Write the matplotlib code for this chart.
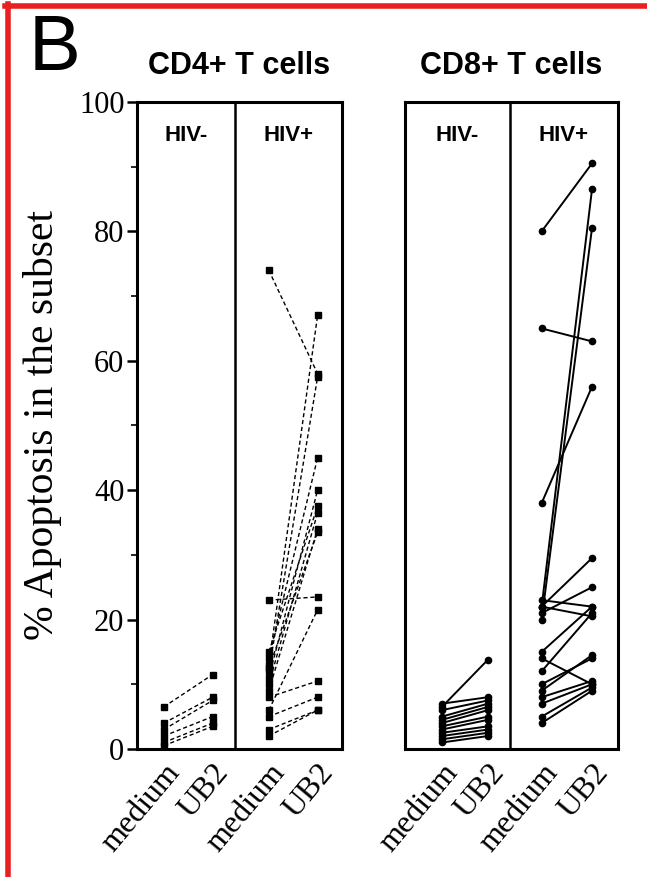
import matplotlib.pyplot as plt
from matplotlib.lines import Line2D
from matplotlib.ticker import MultipleLocator

# % apoptosis, one pair (medium -> UB2) per donor
cd4_neg_medium = [6.5, 4, 3, 2, 1, 0.5]
cd4_neg_ub2 = [11.5, 8, 7.5, 5, 4, 3.5]
cd4_pos_medium = [74, 13, 12, 14, 11, 15, 10, 9, 12.5, 23, 6, 8, 5, 3, 2]
cd4_pos_ub2 = [58, 67, 57.5, 45, 40, 37.5, 36.5, 34, 33.5, 23.5, 21.5, 10.5, 8, 6, 6]

cd8_neg_medium = [6.5, 7, 6, 5, 4.5, 4, 3.5, 3, 2.5, 2, 1.5, 1]
cd8_neg_ub2 = [13.8, 8, 7.5, 7, 6.5, 6, 5, 4.5, 3.5, 3, 2.5, 2]
cd8_pos_medium = [80, 65, 38, 22, 20, 22, 21, 23, 22, 15, 12, 10, 9, 7, 8, 5, 4, 14]
cd8_pos_ub2 = [90.5, 63, 56, 86.5, 80.5, 29.5, 25, 22, 20.5, 22, 21, 14, 14.5, 10, 10.5, 9.5, 9, 10]

tick_labels = ['medium', 'UB2', 'medium', 'UB2']
group_labels = ['HIV-', 'HIV+']
titles = ['CD4+ T cells', 'CD8+ T cells']

fig = plt.figure(figsize=(6.47, 8.77), dpi=100)

serif = 'Liberation Serif'
sans = 'Liberation Sans'


def panel(rect, xmax, pos, divider, neg, pos_data, style, marker, lw, title, first):
    ax = fig.add_axes(rect)
    ax.set_xlim(0, xmax)
    ax.set_ylim(0, 100)
    for m, u in zip(*neg):
        ax.plot([pos[0], pos[1]], [m, u], linestyle=style, color='black', lw=lw,
                marker=marker, ms=4.5)
    for m, u in zip(*pos_data):
        ax.plot([pos[2], pos[3]], [m, u], linestyle=style, color='black', lw=lw,
                marker=marker, ms=4.5)
    ax.axvline(divider, color='black', lw=1.8)
    for sp in ax.spines.values():
        sp.set_linewidth(2.2)
    ax.set_xticks(pos)
    ax.set_xticklabels(tick_labels, rotation=50, ha='right', va='top',
                       rotation_mode='anchor', fontsize=23, family=serif)
    ax.tick_params(axis='x', length=0, pad=7)
    ax.text(divider / 2, 96.5, group_labels[0], ha='center', va='top', fontsize=16,
            fontweight='bold', family=sans)
    ax.text((divider + xmax) / 2, 96.5, group_labels[1], ha='center', va='top', fontsize=16,
            fontweight='bold', family=sans)
    ax.set_title(title, fontsize=22, fontweight='bold', family=sans, pad=20)
    if first:
        ax.yaxis.set_major_locator(MultipleLocator(20))
        ax.yaxis.set_minor_locator(MultipleLocator(10))
        ax.tick_params(axis='y', which='major', length=7, width=1.8, labelsize=22, pad=2)
        ax.tick_params(axis='y', which='minor', length=4, width=1.2)
        for lb in ax.get_yticklabels():
            lb.set_family(serif)
        ax.set_ylabel('% Apoptosis in the subset', fontsize=30, family=serif, labelpad=12)
    else:
        ax.set_yticks([])
    return ax


panel([0.2117, 0.1460, 0.3169, 0.7377], 4.2, [0.55, 1.55, 2.7, 3.7], 2.0,
      (cd4_neg_medium, cd4_neg_ub2), (cd4_pos_medium, cd4_pos_ub2), (0, (3, 2)), 's', 1.0,
      titles[0], True)
panel([0.626, 0.1460, 0.329, 0.7377], 4.44, [0.77, 1.73, 2.85, 3.9], 2.19,
      (cd8_neg_medium, cd8_neg_ub2), (cd8_pos_medium, cd8_pos_ub2), '-', 'o', 1.4,
      titles[1], False)

fig.text(0.044, 0.985, 'B', fontsize=56, family=sans, ha='left', va='top')

# red frame (top and left)
fig.add_artist(Line2D([0.008, 1.0], [0.9937, 0.9937], color='#e8201f', lw=4))
fig.add_artist(Line2D([0.0116, 0.0116], [0.0, 0.996], color='#e8201f', lw=4))

fig.savefig('out.png', dpi=100)
